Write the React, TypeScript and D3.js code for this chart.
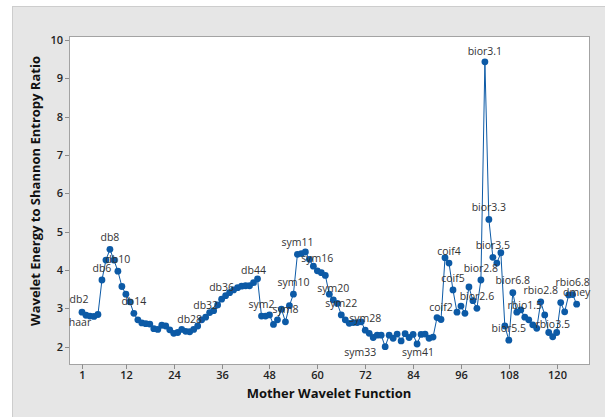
import { useEffect, useRef } from 'react';
import * as d3 from 'd3';

// Wavelet order on the x axis: haar, db2-db45, sym2-sym45, coif1-5, bior (15), rbio (15), dmey
const ratioHaarDb = [
  2.90, 2.82, 2.80, 2.79, 2.84, 3.74, 4.26, 4.54, 4.26, 3.97,
  3.57, 3.37, 3.17, 2.87, 2.70, 2.62, 2.60, 2.59, 2.47, 2.45,
  2.56, 2.54, 2.44, 2.35, 2.37, 2.45, 2.40, 2.39, 2.45, 2.54,
  2.70, 2.77, 2.89, 2.94, 3.09, 3.24, 3.33, 3.41, 3.48, 3.54,
  3.58, 3.59, 3.59, 3.67, 3.77,
];
const ratioSym = [
  2.80, 2.80, 2.83, 2.58, 2.70, 2.98, 2.65, 3.07, 3.37, 4.41,
  4.43, 4.47, 4.28, 4.10, 3.98, 3.93, 3.86, 3.37, 3.22, 3.13,
  2.83, 2.70, 2.61, 2.63, 2.63, 2.65, 2.43, 2.35, 2.24, 2.30,
  2.30, 2.00, 2.30, 2.22, 2.33, 2.15, 2.34, 2.24, 2.32, 2.07,
  2.32, 2.33, 2.22, 2.25,
];
const ratioCoif = [2.76, 2.71, 4.32, 4.18, 3.48];
const ratioBior = [2.90, 3.06, 2.87, 3.56, 3.20, 3.00, 3.74, 9.43, 5.32, 4.33, 4.18, 4.45, 2.54, 2.17, 3.41];
const ratioRbio = [2.90, 2.96, 2.77, 2.70, 2.57, 2.48, 3.17, 2.83, 2.37, 2.26, 2.37, 3.15, 2.91, 3.35, 3.36];
const ratioDmey = [3.11];

const xTicks = [1, 12, 24, 36, 48, 60, 72, 84, 96, 108, 120];
const yTicks = [2, 3, 4, 5, 6, 7, 8, 9, 10];

const labelNames = [
  'haar', 'db2', 'db6', 'db8', 'db10', 'db14', 'db28', 'db32', 'db36', 'db44',
  'sym2', 'sym8', 'sym10', 'sym11', 'sym16', 'sym20', 'sym22', 'sym28', 'sym33', 'sym41',
  'coif2', 'coif4', 'coif5', 'bior2.6', 'bior2.8', 'bior3.1', 'bior3.3', 'bior3.5', 'bior5.5', 'bior6.8',
  'rbio1.5', 'rbio2.8', 'rbio3.5', 'rbio6.8', 'dmey',
];
const labelIndex = [
  1, 2, 6, 8, 10, 14, 28, 32, 36, 44,
  46, 52, 54, 55, 60, 64, 66, 72, 77, 85,
  91, 93, 94, 100, 101, 102, 103, 104, 108, 109,
  112, 116, 119, 124, 125,
];

const W = 605, H = 417;
const BLUE = '#0c5aa6';
const FONT = "'Open Sans', 'Segoe UI', sans-serif";

export default function App() {
  const svgRef = useRef<SVGSVGElement>(null);

  useEffect(() => {
    if (!svgRef.current) return;
    const svg = d3.select(svgRef.current);
    svg.selectAll('*').remove();

    const ratio = [...ratioHaarDb, ...ratioSym, ...ratioCoif, ...ratioBior, ...ratioRbio, ...ratioDmey];
    const pts = ratio.map((v, i) => ({ i: i + 1, v }));

    const plot = { l: 69, t: 36, r: 589, b: 364 };
    const x = d3.scaleLinear().domain([1, 120]).range([82, 556.7]);
    const y = d3.scaleLinear().domain([2, 10]).range([346.7, 40]);

    // outer panel + plot frame
    svg.append('rect').attr('x', 12.5).attr('y', 6.5).attr('width', W).attr('height', H)
      .attr('fill', '#e6e6e6').attr('stroke', '#cdcdcd');
    svg.append('rect').attr('x', plot.l + 0.5).attr('y', plot.t + 0.5)
      .attr('width', plot.r - plot.l).attr('height', plot.b - plot.t)
      .attr('fill', '#fff').attr('stroke', '#a3a3a3');

    // y axis
    yTicks.forEach(t => {
      const yy = Math.round(y(t)) + 0.5;
      svg.append('line').attr('x1', plot.l - 4).attr('x2', plot.l).attr('y1', yy).attr('y2', yy)
        .attr('stroke', '#8c8c8c');
      svg.append('text').attr('x', 63).attr('y', yy).attr('dy', '0.35em').attr('text-anchor', 'end')
        .attr('font-family', FONT).attr('font-size', 11).attr('font-weight', 600).attr('fill', '#222')
        .text(t);
    });
    // x axis
    xTicks.forEach(t => {
      const xx = Math.round(x(t)) + 0.5;
      svg.append('line').attr('x1', xx).attr('x2', xx).attr('y1', plot.b + 0.5).attr('y2', plot.b + 5)
        .attr('stroke', '#8c8c8c');
      svg.append('text').attr('x', xx).attr('y', 379).attr('text-anchor', 'middle')
        .attr('font-family', FONT).attr('font-size', 11).attr('font-weight', 600).attr('fill', '#222')
        .text(t);
    });

    svg.append('text').attr('x', 329).attr('y', 398).attr('text-anchor', 'middle')
      .attr('font-family', FONT).attr('font-size', 13).attr('font-weight', 700).attr('fill', '#111')
      .text('Mother Wavelet Function');
    svg.append('text').attr('transform', 'translate(40,191) rotate(-90)').attr('text-anchor', 'middle')
      .attr('font-family', FONT).attr('font-size', 13).attr('font-weight', 700).attr('fill', '#111')
      .text('Wavelet Energy to Shannon Entropy Ratio');

    // connect line + markers
    const line = d3.line<{ i: number; v: number }>().x(d => x(d.i)).y(d => y(d.v));
    svg.append('path').datum(pts).attr('d', line)
      .attr('fill', 'none').attr('stroke', BLUE).attr('stroke-width', 1);
    svg.append('g').selectAll('circle').data(pts).enter().append('circle')
      .attr('cx', d => x(d.i)).attr('cy', d => y(d.v)).attr('r', 3.4).attr('fill', BLUE);

    // point labels, mostly just above the point
    const nudge: Record<string, [number, number]> = {
      haar: [-2, 10], db2: [-7, -16], sym33: [-25, 6], sym41: [1, 8], 'bior3.1': [0, -11],
    };
    labelNames.forEach((name, k) => {
      const d = pts[labelIndex[k] - 1];
      const [dx, dy] = nudge[name] ?? [0, -12];
      svg.append('text').attr('x', x(d.i) + dx).attr('y', y(d.v) + dy).attr('dy', '0.35em')
        .attr('text-anchor', 'middle').attr('font-family', FONT).attr('font-size', 10.5)
        .attr('fill', '#333').text(name);
    });
  }, []);

  return (
    <svg ref={svgRef} width={W} height={H} viewBox={`0 0 ${W} ${H}`}
      style={{ position: 'absolute', left: 0, top: 0, background: '#fff' }} />
  );
}
